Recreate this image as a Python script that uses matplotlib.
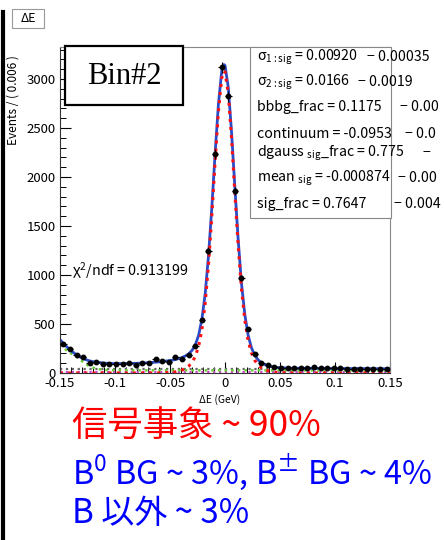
import numpy as np
import matplotlib
matplotlib.use('Agg')
import matplotlib.pyplot as plt
from matplotlib.patches import Rectangle
from matplotlib.lines import Line2D

plt.rcParams['font.family'] = ['Noto Sans CJK JP', 'DejaVu Sans']
plt.rcParams['mathtext.default'] = 'regular'
plt.rcParams['axes.unicode_minus'] = False

# ---- data ----
bin_centers = [-0.147, -0.141, -0.135, -0.129, -0.123, -0.117, -0.111, -0.105, -0.099, -0.093,
               -0.087, -0.081, -0.075, -0.069, -0.063, -0.057, -0.051, -0.045, -0.039, -0.033,
               -0.027, -0.021, -0.015, -0.009, -0.003, 0.003, 0.009, 0.015, 0.021, 0.027,
               0.033, 0.039, 0.045, 0.051, 0.057, 0.063, 0.069, 0.075, 0.081, 0.087,
               0.093, 0.099, 0.105, 0.111, 0.117, 0.123, 0.129, 0.135, 0.141, 0.147]
counts = [296, 245, 184, 167, 105, 115, 92, 92, 92, 92,
          98, 82, 98, 105, 140, 122, 115, 159, 140, 184,
          271, 545, 1248, 2235, 3120, 2822, 1860, 966, 446, 194,
          97, 80, 58, 56, 50, 47, 50, 54, 58, 50,
          47, 50, 47, 44, 42, 42, 39, 42, 39, 42]

# fit curves (total and signal)
curve_x = [-0.15, -0.145, -0.14, -0.135, -0.13, -0.125, -0.12, -0.11, -0.10, -0.09,
           -0.08, -0.07, -0.06, -0.05, -0.045, -0.04, -0.036, -0.033, -0.03, -0.027,
           -0.024, -0.021, -0.018, -0.015, -0.012, -0.009, -0.006, -0.003, -0.001, 0.0,
           0.003, 0.006, 0.009, 0.012, 0.015, 0.018, 0.021, 0.024, 0.027, 0.03,
           0.033, 0.036, 0.04, 0.045, 0.05, 0.06, 0.08, 0.10, 0.12, 0.15]
total_fit = [340, 280, 228, 185, 152, 130, 115, 101, 96, 96,
             99, 105, 113, 127, 138, 154, 174, 196, 230, 287,
             384, 548, 811, 1198, 1687, 2239, 2740, 3080, 3148, 3139,
             2914, 2450, 1890, 1357, 913, 597, 387, 259, 182, 136,
             104, 87, 70, 59, 54, 49, 48, 46, 45, 43]
signal_fit = [0, 0, 0, 0, 0, 0, 0, 0, 0, 0,
              0, 0, 0, 5, 12, 26, 46, 70, 108, 169,
              272, 443, 713, 1106, 1601, 2159, 2665, 3010, 3080, 3072,
              2850, 2388, 1830, 1299, 857, 542, 333, 206, 130, 84,
              53, 36, 20, 9, 4, 0, 0, 0, 0, 0]

bbbg_x = [-0.15, -0.145, -0.14, -0.135, -0.13, -0.125, -0.12, -0.115, -0.11, -0.10,
          -0.08, -0.05, 0.0, 0.05, 0.10, 0.15]
bbbg_fit = [290, 240, 200, 166, 120, 80, 55, 40, 32, 28, 27, 27, 27, 27, 27, 27]
flat_x = [-0.15, 0.15]
cont_fit = [38, 38]
other_fit = [12, 12]

x_ticks = [-0.15, -0.1, -0.05, 0, 0.05, 0.1, 0.15]
x_ticklabels = ['-0.15', '-0.1', '-0.05', '0', '0.05', '0.1', '0.15']
y_ticks = [0, 500, 1000, 1500, 2000, 2500, 3000]
y_ticklabels = ['0', '500', '1000', '1500', '2000', '2500', '3000']

# parameter box texts (the errors are cut by the slide edge in the original)
param_lines = [r'$\sigma_{1:sig}$ = 0.00920', r'$\sigma_{2:sig}$ = 0.0166',
               'bbbg_frac = 0.1175', 'continuum = -0.0953',
               r'dgauss $_{sig}$_frac = 0.775', r'mean $_{sig}$ = -0.000874',
               'sig_frac = 0.7647']
param_errors = ['\u2212 0.00035', '\u2212 0.0019', '\u2212 0.00', '\u2212 0.0',
                '\u2212', '\u2212 0.00', '\u2212 0.004']

W, H = 444, 540


def fp(x, y):
    return x / W, 1 - y / H


fig = plt.figure(figsize=(4.44, 5.4), dpi=100)
ax = fig.add_axes([60 / W, 1 - 373 / H, 330 / W, 326 / H])

ax.plot(flat_x, other_fit, ls=':', color='#cc44cc', lw=1.6)
ax.plot(flat_x, cont_fit, ls=':', color='#666666', lw=1.6)
ax.plot(bbbg_x, bbbg_fit, ls=':', color='#66cc33', lw=1.8)
ax.plot(curve_x, total_fit, color='#2a4bc8', lw=2.0)
ax.plot(curve_x, signal_fit, ls=':', color='#ff1010', lw=2.2)

yerr = np.sqrt(counts)
ax.errorbar(bin_centers, counts, yerr=yerr, xerr=0.003, fmt='o', color='black',
            ms=3.2, elinewidth=0.8, capsize=0, zorder=5)

ax.set_xlim(-0.15, 0.15)
ax.set_ylim(0, 3327)
ax.set_xticks(x_ticks)
ax.set_xticklabels(x_ticklabels)
ax.set_yticks(y_ticks)
ax.set_yticklabels(y_ticklabels)
ax.set_xticks(np.arange(-0.15, 0.1501, 0.01), minor=True)
ax.set_yticks(np.arange(0, 3301, 100), minor=True)
ax.tick_params(which='major', direction='in', length=8, width=0.8, labelsize=9.5, pad=3)
ax.tick_params(which='minor', direction='in', length=4, width=0.7)
ax.tick_params(axis='y', which='both', left=True, right=False)
ax.tick_params(axis='x', which='both', bottom=True, top=False)
for s in ['top', 'right']:
    ax.spines[s].set_color('#888888')
for s in ['left', 'bottom']:
    ax.spines[s].set_color('#333333')
for s in ax.spines.values():
    s.set_linewidth(0.8)

# axis titles
fig.text(*fp(13, 100), 'Events / ( 0.006 )', rotation=90, ha='center', va='center',
         fontsize=8.5)
fig.text(*fp(220, 400), '\u0394E (GeV)', ha='center', va='center', fontsize=7.5)

# chi2 text
fig.text(*fp(72, 271), r'$\chi^2$/ndf = 0.913199', ha='left', va='center', fontsize=10.3)

# parameter box
fig.patches.append(Rectangle(fp(250, 218), 141 / W, 171 / H, transform=fig.transFigure,
                             facecolor='white', edgecolor='#888888', lw=0.8, zorder=2))
rows_y = [57, 82, 107, 134, 153, 178, 204]
err_x = [367, 358, 400, 405, 422, 398, 394]
for txt, err, yy, ex in zip(param_lines, param_errors, rows_y, err_x):
    fig.text(*fp(257, yy), txt, ha='left', va='center', fontsize=10.2, zorder=3)
    fig.text(*fp(ex, yy), err, ha='left', va='center', fontsize=10.2, zorder=3)

# Bin#2 box
fig.patches.append(Rectangle(fp(65, 105), 118 / W, 59 / H, transform=fig.transFigure,
                             facecolor='white', edgecolor='black', lw=1.6, zorder=2))
fig.text(*fp(124, 77), 'Bin#2', ha='center', va='center', fontsize=22,
         family='Liberation Serif', zorder=3)

# Delta E tag
fig.patches.append(Rectangle(fp(12, 28), 32 / W, 19 / H, transform=fig.transFigure,
                             facecolor='white', edgecolor='#999999', lw=0.8, zorder=2))
fig.text(*fp(28, 18.5), '\u0394E', ha='center', va='center', fontsize=9, zorder=3)

# black bar on the left
fig.lines.append(Line2D([3 / W, 3 / W], [1 - 12 / H, 0], transform=fig.transFigure,
                        color='black', lw=3))

# bottom comments
fig.text(*fp(72, 426), '信号事象 ~ 90%', color='#ff0000', ha='left', va='center', fontsize=25.5)
fig.text(*fp(72, 472), r'B$^0$ BG ~ 3%, B$^{\pm}$ BG ~ 4%', color='#0000ff', ha='left',
         va='center', fontsize=23.4)
fig.text(*fp(72, 514), 'B 以外 ~ 3%', color='#0000ff', ha='left', va='center', fontsize=23.8)

fig.savefig('out.png', dpi=100)
